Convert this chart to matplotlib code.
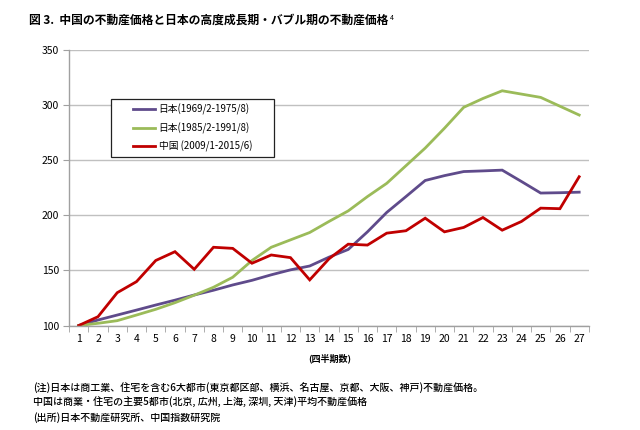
import numpy as np
import matplotlib
matplotlib.use('Agg')
import matplotlib.pyplot as plt
from matplotlib.patches import Rectangle

plt.rcParams['font.family'] = ['Noto Sans CJK JP', 'DejaVu Sans']

# 四半期 1..27
kikan = list(range(1, 28))

# 日本(1969/2-1975/8)
nihon_kodo = [100, 105, 109.5, 114, 118.6, 123, 127.7, 132, 136.8, 141,
              146, 150.5, 154, 162, 169, 185, 202.6, 217, 231.6, 236,
              239.7, 240.3, 241, 230.7, 220.2, 220.5, 221]
# 日本(1985/2-1991/8)
nihon_bubble = [100, 102, 104.4, 109.5, 114.7, 120.7, 127.5, 134.7, 143.8, 159,
                171, 177.7, 184.4, 194.4, 204, 217, 229, 245, 261, 279,
                298, 306, 313, 310, 307, 299, 291]
# 中国(2009/1-2015/6)
chugoku = [100, 108, 129.8, 139.8, 159, 167, 151, 171, 170, 156.5,
           164, 161.6, 141.4, 160.5, 173.8, 173, 183.8, 186, 197.4, 185,
           189, 198, 186.5, 194.4, 206.5, 206, 235]

labels = ['日本(1969/2-1975/8)', '日本(1985/2-1991/8)', '中国 (2009/1-2015/6)']
colors = ['#5f4b8b', '#9bbb59', '#c00000']

fig = plt.figure(figsize=(6.4, 4.3), dpi=100)
ax = fig.add_axes([0.108, 0.243, 0.812, 0.6407])

x = np.array(kikan)
for y, lab, c in zip([nihon_kodo, nihon_bubble, chugoku], labels, colors):
    ax.plot(x, y, color=c, lw=2.0, label=lab, solid_joinstyle='miter')

ax.set_xlim(0.5, 27.5)
ax.set_ylim(100, 350)
ax.set_yticks(range(100, 351, 50))
ax.set_xticks(kikan)
ax.set_xticks(np.arange(0.5, 28, 1), minor=True)
ax.tick_params(axis='x', which='major', length=0, labelsize=7.5, pad=6)
ax.tick_params(axis='x', which='minor', length=4, color='#a0a0a0', direction='out')
ax.tick_params(axis='y', length=4, color='#a0a0a0', labelsize=7.5, pad=3)
ax.grid(axis='y', color='#c0c0c0', lw=1)
ax.set_axisbelow(True)
for s in ['top', 'right']:
    ax.spines[s].set_visible(False)
for s in ['left', 'bottom']:
    ax.spines[s].set_color('#a0a0a0')
    ax.spines[s].set_linewidth(1)

# 凡例（枠は別に描く）
box = Rectangle((0.081, 0.612), 0.313, 0.21, transform=ax.transAxes,
                facecolor='white', edgecolor='#222222', lw=0.9, zorder=4)
ax.add_patch(box)
leg = ax.legend(loc='center', bbox_to_anchor=(0.2375, 0.717), fontsize=7,
                handlelength=2.3, frameon=False, borderpad=0.2,
                labelspacing=0.75, handletextpad=0.35)
leg.set_zorder(5)

fig.text(0.516, 0.167, '(四半期数)', fontsize=6.5, fontweight='bold',
         ha='center', va='center')

title = fig.text(0.046, 0.953, '図 3.  中国の不動産価格と日本の高度成長期・バブル期の不動産価格',
                 fontsize=8.5, fontweight='bold', ha='left', va='center')
ax.annotate('4', xy=(1, 1), xycoords=title, xytext=(1, 0), textcoords='offset points',
            fontsize=5, ha='left', va='top', annotation_clip=False)

notes = ['(注)日本は商工業、住宅を含む6大都市(東京都区部、横浜、名古屋、京都、大阪、神戸)不動産価格。',
         '中国は商業・住宅の主要5都市(北京, 広州, 上海, 深圳, 天津)平均不動産価格',
         '(出所)日本不動産研究所、中国指数研究院']
for i, t in enumerate(notes):
    fig.text(0.052, 0.097 - i * 0.034, t, fontsize=7.2, fontweight='medium',
             ha='left', va='center')

fig.savefig('out.png', dpi=100)
